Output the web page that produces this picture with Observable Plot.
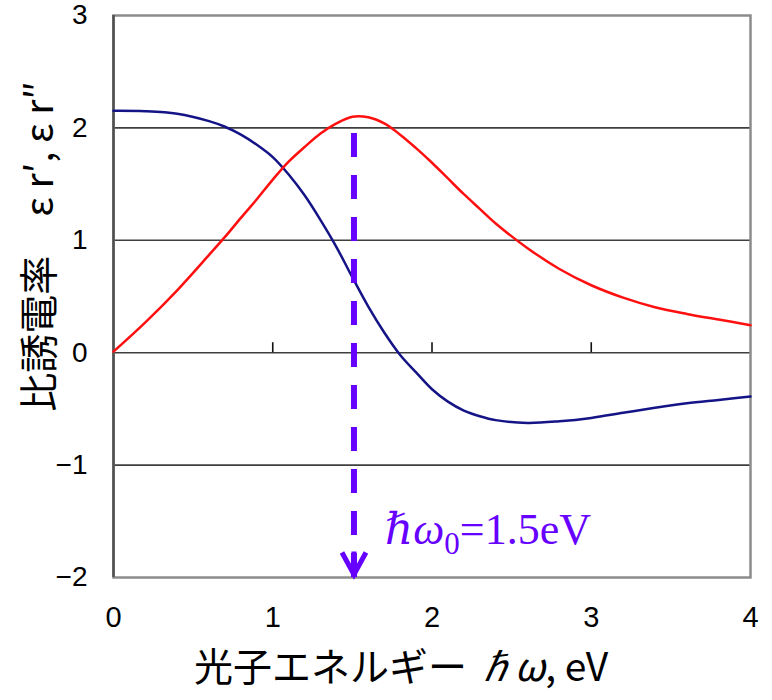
<!DOCTYPE html>
<html><head><meta charset="utf-8">
<script src="https://cdn.jsdelivr.net/npm/d3@7"></script>
<script src="https://cdn.jsdelivr.net/npm/@observablehq/plot@0.6"></script>
<style>body{margin:0;background:#fff}</style>
</head><body><div id="chart"></div>
<script>
// Photon energy ħω (eV)
const photonEnergy = [0, 0.2, 0.4, 0.6, 0.7, 0.8, 0.9, 1.0, 1.1, 1.2, 1.3, 1.4, 1.5, 1.6, 1.7, 1.8, 1.9, 2.0, 2.1, 2.2, 2.3, 2.4, 2.6, 2.8, 3.0, 3.2, 3.4, 3.6, 3.8, 4.0];
// ε r′ (real part, blue)
const epsReal = [2.152, 2.148, 2.125, 2.06, 2.01, 1.94, 1.85, 1.74, 1.585, 1.40, 1.18, 0.94, 0.67, 0.41, 0.18, -0.02, -0.175, -0.325, -0.435, -0.515, -0.565, -0.60, -0.625, -0.61, -0.58, -0.535, -0.49, -0.45, -0.42, -0.39];
// ε r″ (imaginary part, red)
const epsImag = [0.01, 0.27, 0.555, 0.87, 1.03, 1.20, 1.365, 1.54, 1.70, 1.83, 1.95, 2.04, 2.10, 2.095, 2.04, 1.94, 1.82, 1.69, 1.55, 1.41, 1.28, 1.15, 0.93, 0.745, 0.60, 0.49, 0.405, 0.345, 0.295, 0.245];

const resonanceEnergy = 1.51;           // ħω0 marker position
const annotationParts = ["ℏω", "0", "=1.5eV"];
const xTicks = [0, 1, 2, 3, 4];
const yTicks = [-2, -1, 0, 1, 2, 3];
const gridLines = [-1, 0, 1, 2];
const zeroLineTicks = [1, 2, 3];
const xTitle = "光子エネルギー ℏω, eV";
const yTitle = "比誘電率　ε r′, ε r″";

const table = photonEnergy.map((e, i) => ({e, real: epsReal[i], imag: epsImag[i]}));
const peak = d3.max(epsImag);
const annotationText = annotationParts.join("");

const chevron = {
  draw(ctx) {
    ctx.moveTo(-12, -25);
    ctx.lineTo(0, -3);
    ctx.lineTo(12, -25);
    ctx.moveTo(0, -3);
    ctx.lineTo(0, -26);
  }
};

const sans = "'Liberation Sans', Arial, 'Noto Sans CJK JP', sans-serif";
const jp = "'Noto Sans CJK JP', sans-serif";
const purple = "#6600ff";
const fmt = d3.format("d");

const chart = Plot.plot({
  width: 772, height: 700,
  marginLeft: 113, marginRight: 22, marginTop: 15, marginBottom: 123,
  x: {domain: [0, 4]},
  y: {domain: [-2, 3]},
  style: {fontFamily: sans, background: "#fff", color: "#000"},
  marks: [
    Plot.ruleY(gridLines, {stroke: "#3f3f3f", strokeWidth: 1.6}),
    Plot.ruleX(zeroLineTicks, {y1: 0, y2: 0, insetTop: -10, stroke: "#111", strokeWidth: 1.6}),
    Plot.frame({stroke: "#8c8c8c", strokeWidth: 2.5}),
    Plot.ruleX([0], {stroke: "#505050", strokeWidth: 2.5}),
    Plot.line(table, {x: "e", y: "real", stroke: "#141487", strokeWidth: 2.5, curve: "catmull-rom"}),
    Plot.line(table, {x: "e", y: "imag", stroke: "#ff1010", strokeWidth: 2.5, curve: "catmull-rom"}),
    Plot.ruleX([resonanceEnergy], {y1: -2, y2: peak, stroke: purple, strokeWidth: 6, strokeDasharray: "24,18"}),
    Plot.dot([resonanceEnergy], {x: d => d, y: () => -2, symbol: chevron, fill: "none", stroke: purple, strokeWidth: 5}),
    Plot.text([annotationText], {x: () => resonanceEnergy, y: () => -1.58, dx: 31, text: d => d, textAnchor: "start",
      fontSize: 44, fill: purple, fontFamily: "'Liberation Serif', 'Times New Roman', 'DejaVu Serif', serif"}),
    Plot.axisX({ticks: xTicks, tickSize: 0, tickPadding: 29, fontSize: 29, tickFormat: fmt, label: null}),
    Plot.axisY({ticks: yTicks, tickSize: 0, tickPadding: 26, fontSize: 28, tickFormat: fmt, label: null}),
    Plot.text([yTitle], {frameAnchor: "left", textAnchor: "middle", lineAnchor: "middle", rotate: -90, dx: -73, dy: -50,
      text: d => d, fontSize: 39, fontFamily: jp, fill: "#000"}),
    Plot.text([xTitle], {frameAnchor: "bottom", textAnchor: "middle", lineAnchor: "middle", dx: -31, dy: 91,
      text: d => d, fontSize: 39, fontFamily: jp, fill: "#000"})
  ]
});

document.getElementById("chart").appendChild(chart);

// rich text: italics and subscript
const svgNS = "http://www.w3.org/2000/svg";
chart.querySelectorAll("text").forEach(t => {
  if (t.textContent === annotationText) {
    t.textContent = "";
    const a = document.createElementNS(svgNS, "tspan"); a.textContent = annotationParts[0]; a.setAttribute("font-style", "italic");
    const b = document.createElementNS(svgNS, "tspan"); b.textContent = annotationParts[1]; b.setAttribute("font-size", "31"); b.setAttribute("dy", "10");
    const c = document.createElementNS(svgNS, "tspan"); c.textContent = annotationParts[2]; c.setAttribute("dy", "-10");
    t.append(a, b, c);
  } else if (t.textContent === xTitle) {
    const [pre, post] = xTitle.split("ℏω");
    t.textContent = "";
    const a = document.createElementNS(svgNS, "tspan"); a.textContent = pre;
    const b = document.createElementNS(svgNS, "tspan"); b.textContent = "ℏω"; b.setAttribute("font-style", "italic");
    const c = document.createElementNS(svgNS, "tspan"); c.textContent = post;
    t.append(a, b, c);
  }
});
</script>
</body></html>
